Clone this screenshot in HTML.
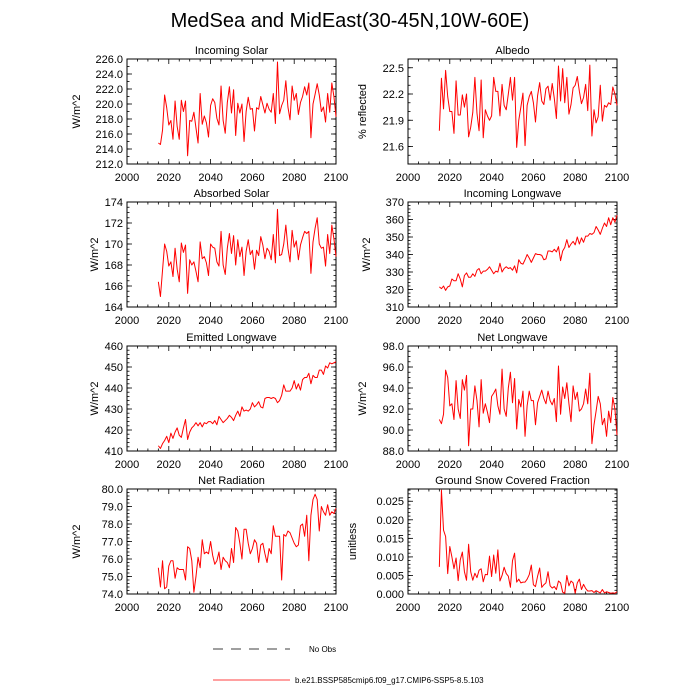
<!DOCTYPE html>
<html><head><meta charset="utf-8"><style>
body{margin:0;background:#fff;font-family:"Liberation Sans",sans-serif}
svg{display:block}
</style></head><body>
<svg id="c" width="700" height="700" xmlns="http://www.w3.org/2000/svg">
<text x="350" y="27" font-size="20" text-anchor="middle">MedSea and MidEast(30-45N,10W-60E)</text>
<g>
<line x1="213" y1="649" x2="290" y2="649" stroke="#000" stroke-width="0.8" stroke-dasharray="10,8"/>
<text x="309" y="652" font-size="8">No Obs</text>
<line x1="213" y1="680" x2="290" y2="680" stroke="red" stroke-width="0.8"/>
<text x="295" y="683" font-size="8">b.e21.BSSP585cmip6.f09_g17.CMIP6-SSP5-8.5.103</text>
</g>
</svg>
<script>
const startYear = 2015;
const endYear = 2100;
const xTicks = [2000,2020,2040,2060,2080,2100];
const incomingSolar = [214.8,214.6,216.5,221.2,219.5,217.2,217.8,215.3,220.4,217.0,215.3,220.5,219.0,220.4,213.1,217.8,217.7,218.9,216.8,214.8,221.4,217.3,218.4,217.5,215.6,219.8,220.7,220.2,218.1,217.2,222.4,217.8,216.1,220.2,222.3,218.8,221.9,215.8,220.1,218.8,220.0,215.0,219.0,220.9,219.3,219.4,216.4,219.5,219.3,221.0,219.9,218.8,220.1,219.3,218.9,221.4,217.4,225.6,218.7,219.8,220.5,223.1,219.6,217.9,222.4,220.5,221.4,218.6,220.2,221.0,222.3,221.2,222.8,215.5,220.0,221.3,222.7,221.2,219.0,219.6,217.6,221.4,218.9,222.8,221.0,218.3];
const albedo = [21.78,22.38,22.03,22.47,22.17,22.0,22.0,21.75,22.35,21.96,21.96,22.19,22.05,22.2,21.71,21.82,21.99,22.39,21.98,21.78,22.36,21.7,22.02,21.95,21.9,21.95,22.39,22.23,22.23,21.95,22.31,22.07,22.02,22.2,22.39,22.13,22.39,21.59,21.9,22.05,22.21,21.61,22.07,22.17,22.23,22.1,21.88,22.18,22.33,22.12,22.08,22.26,22.29,22.13,22.32,22.15,21.92,22.52,22.12,22.49,22.1,22.39,21.97,22.08,22.27,22.3,22.4,22.23,22.09,22.16,22.31,22.01,22.53,21.72,22.02,21.87,21.94,22.3,21.89,22.07,22.05,22.1,22.08,22.28,22.2,22.07];
const absorbedSolar = [166.4,165.0,167.5,170.0,169.3,167.9,168.3,166.9,169.6,167.6,166.4,170.1,169.2,169.9,165.3,168.5,168.0,168.3,167.4,166.4,170.2,168.6,168.8,168.2,167.0,170.0,169.7,169.6,168.3,167.9,171.2,168.0,167.1,169.6,171.0,169.1,170.8,168.0,170.4,168.8,169.7,167.0,169.3,170.4,169.0,169.4,167.6,169.4,168.9,170.7,169.9,168.6,169.6,169.3,168.5,170.9,168.2,173.3,168.9,169.0,170.0,171.8,169.6,168.3,171.3,169.7,170.3,168.5,169.9,170.6,171.2,171.0,171.2,167.2,170.2,171.5,172.5,170.0,169.6,169.7,167.9,170.9,169.1,171.8,170.5,168.8];
const incomingLW = [321.5,320.5,322,319.5,321.5,322,326,325,325,329,326,321.5,328,329.5,327,327,329,327.5,331,332,329,330.5,330.5,331.5,333,331,329,330.5,330,335,330,332,333,332,332.5,331,333.5,329.5,337,335,334.5,337,340,338,335.5,338,340.5,340,340,339.5,337,337.5,342,342,341.5,343,341.5,344.5,336.5,342,344,348.5,344,346,347.5,345.5,350,346,349.5,347,350.5,350.5,352,351.5,352.5,356,354,351.5,355,358,356,361,357,361,358.5,362.5];
const emittedLW = [412.5,411.2,413.5,415,417,414,418.5,416,419,421,417.5,416.5,421,425,415.5,419,421,422,423.5,422,423.5,421.5,423.5,423,424,424,423,424.5,422.5,426.5,425,423.5,424.5,425.5,427,426,424.5,427,429,426.5,431,429,429.5,429,430,433,431,432,433.5,431,430.5,435,435.5,435.5,435,435.5,435,433,434,436.5,441.5,438.5,438.5,438.5,440,443.5,439.5,442,439,444,445,445,447,442,446,445,445,448.5,448.5,446.5,450.5,449.5,452,451.5,452,452.5];
const netLW = [91.0,90.6,91.5,95.7,95.0,92.3,92.5,91.0,94.7,92.0,91.1,94.8,93.8,95.2,88.5,92.0,92.0,94.2,92.8,90.3,94.8,91.6,92.5,91.7,90.7,93.2,93.5,93.9,92.3,91.5,95.8,92.0,91.3,94.0,95.5,92.6,94.9,90.1,92.9,92.2,93.7,89.4,92.3,93.7,92.8,92.8,90.5,92.6,93.2,93.8,93.0,92.5,93.7,92.8,92.4,93.0,90.8,96.1,91.5,94.1,93.0,94.5,92.5,90.8,94.2,92.9,93.6,91.8,92.0,92.5,93.9,92.5,95.4,88.7,90.5,91.8,93.2,92.5,90.5,91.1,89.4,91.8,90.7,93.1,92.0,89.5];
const netRad = [75.5,74.4,75.9,74.3,74.4,75.6,75.9,75.9,74.9,75.5,75.4,75.4,75.4,74.8,76.7,76.6,75.9,74.1,75.0,76.1,75.5,77.1,76.3,76.4,76.3,77.0,76.2,75.7,75.9,76.4,75.4,76.1,75.9,75.8,75.5,76.6,75.8,77.8,77.6,76.9,76.0,77.7,77.7,76.9,76.3,76.6,77.1,76.9,75.8,76.8,76.9,76.3,75.8,76.6,76.3,77.9,77.3,77.3,77.3,74.8,77.4,77.3,77.6,77.5,77.2,76.9,76.7,76.8,77.9,78.0,77.3,78.5,75.9,78.5,79.4,79.7,79.4,77.6,79.0,78.7,78.5,79.1,78.5,78.7,78.6,78.9];
const snowFrac = [0.0073,0.0280,0.0172,0.0155,0.0055,0.0128,0.0100,0.0068,0.0097,0.0036,0.0092,0.0113,0.0060,0.0037,0.0134,0.0060,0.0037,0.0056,0.0044,0.0064,0.0068,0.0033,0.0053,0.0052,0.0102,0.0047,0.0105,0.0056,0.0119,0.0035,0.0050,0.0072,0.0055,0.0048,0.0018,0.0090,0.0110,0.0032,0.0040,0.0030,0.0032,0.0032,0.0040,0.0052,0.0078,0.0025,0.0020,0.0048,0.0070,0.0018,0.0025,0.0030,0.0060,0.0022,0.0016,0.0020,0.0012,0.0035,0.0030,0.0005,0.0002,0.0050,0.0022,0.0035,0.0030,0.0002,0.0030,0.0040,0.0012,0.0026,0.0015,0.0008,0.0008,0.0009,0.0004,0.0009,0.0006,0.0003,0.0012,0.0003,0.0006,0.0004,0.0002,0.0003,0.0002,0.0006];
const ticksIncomingSolar = [212,214,216,218,220,222,224,226];
const ticksAlbedo = [21.6,21.9,22.2,22.5];
const ticksAbsorbed = [164,166,168,170,172,174];
const ticksIncLW = [310,320,330,340,350,360,370];
const ticksEmitLW = [410,420,430,440,450,460];
const ticksNetLW = [88,90,92,94,96,98];
const ticksNetRad = [74,75,76,77,78,79,80];
const ticksSnow = [0,0.005,0.010,0.015,0.020,0.025];

const NS='http://www.w3.org/2000/svg';
const svg=document.getElementById('c');
function mk(tag,attrs,parent){const e=document.createElementNS(NS,tag);for(const k in attrs)e.setAttribute(k,attrs[k]);(parent||svg).appendChild(e);return e;}

function panel(o){
  const g=mk('g',{});
  
  
  const L=o.x,R=o.x+209,T=o.y,B=o.y+105;
  const xs=v=>L+(v-2000)/100*(R-L);
  const ys=v=>B-(v-o.min)/(o.max-o.min)*(B-T);
  const frame=mk('rect',{x:L,y:T,width:R-L,height:B-T,fill:'none',stroke:'#000','stroke-width':1},g);
  
  
  for(let yr=2000;yr<=2100;yr+=5){
    const len=(yr%20===0)?5:2.5, X=xs(yr);
    mk('line',{x1:X,y1:B,x2:X,y2:B-len,stroke:'#000','stroke-width':0.8},g);
    mk('line',{x1:X,y1:T,x2:X,y2:T+len,stroke:'#000','stroke-width':0.8},g);
  }
  xTicks.forEach(t=>{
    const tx=mk('text',{x:xs(t),y:B+17,'font-size':11,'text-anchor':'middle'},g);
    tx.textContent=t;
    
    
  });
  const st=o.ticks[1]-o.ticks[0], ms=st/o.minor;
  for(let v=o.ticks[0]-Math.floor((o.ticks[0]-o.min)/ms)*ms; v<=o.max+1e-9; v+=ms){
    const Y=ys(v); if(Y<T-0.1||Y>B+0.1)continue;
    mk('line',{x1:L,y1:Y,x2:L+2.5,y2:Y,stroke:'#000','stroke-width':0.8},g);
    mk('line',{x1:R,y1:Y,x2:R-2.5,y2:Y,stroke:'#000','stroke-width':0.8},g);
  }
  o.ticks.forEach(t=>{
    const Y=ys(t);
    mk('line',{x1:L,y1:Y,x2:L+5,y2:Y,stroke:'#000','stroke-width':0.8},g);
    mk('line',{x1:R,y1:Y,x2:R-5,y2:Y,stroke:'#000','stroke-width':0.8},g);
    const tx=mk('text',{x:L-4,y:Y+4,'font-size':11,'text-anchor':'end'},g);
    tx.textContent=t.toFixed(o.dec);
    
    
  });
  const ti=mk('text',{x:(L+R)/2,y:T-5,'font-size':11,'text-anchor':'middle'},g);
  ti.textContent=o.title;
  
  
  const yl=mk('text',{x:0,y:0,'font-size':11,'text-anchor':'middle',transform:`translate(${o.lx},${(T+B)/2}) rotate(-90)`},g);
  yl.textContent=o.ylabel;
  
  
  const n=endYear-startYear+1;
  const d=o.data.slice(0,n);
  const pts=d.map((v,i)=>xs(startYear+i).toFixed(2)+','+ys(v).toFixed(2)).join(' ');
  const pl=mk('polyline',{points:pts,fill:'none',stroke:'red','stroke-width':1,'stroke-linejoin':'round'},g);
  
  
}
panel({name:'incoming-solar',title:'Incoming Solar',x:127,y:59,min:212,max:226,ticks:ticksIncomingSolar,dec:1,minor:2,data:incomingSolar,ylabel:'W/m^2',lx:80});
panel({name:'albedo',title:'Albedo',x:408,y:59,min:21.4,max:22.6,ticks:ticksAlbedo,dec:1,minor:3,data:albedo,ylabel:'% reflected',lx:366});
panel({name:'absorbed-solar',title:'Absorbed Solar',x:127,y:202,min:164,max:174,ticks:ticksAbsorbed,dec:0,minor:4,data:absorbedSolar,ylabel:'W/m^2',lx:98});
panel({name:'incoming-longwave',title:'Incoming Longwave',x:408,y:202,min:310,max:370,ticks:ticksIncLW,dec:0,minor:5,data:incomingLW,ylabel:'W/m^2',lx:370});
panel({name:'emitted-longwave',title:'Emitted Longwave',x:127,y:346,min:410,max:460,ticks:ticksEmitLW,dec:0,minor:5,data:emittedLW,ylabel:'W/m^2',lx:98});
panel({name:'net-longwave',title:'Net Longwave',x:408,y:346,min:88,max:98,ticks:ticksNetLW,dec:1,minor:4,data:netLW,ylabel:'W/m^2',lx:366});
panel({name:'net-radiation',title:'Net Radiation',x:127,y:489,min:74,max:80,ticks:ticksNetRad,dec:1,minor:5,data:netRad,ylabel:'W/m^2',lx:80});
panel({name:'snow-fraction',title:'Ground Snow Covered Fraction',x:408,y:489,min:0,max:0.0283,ticks:ticksSnow,dec:3,minor:5,data:snowFrac,ylabel:'unitless',lx:356});
</script>
</body></html>
